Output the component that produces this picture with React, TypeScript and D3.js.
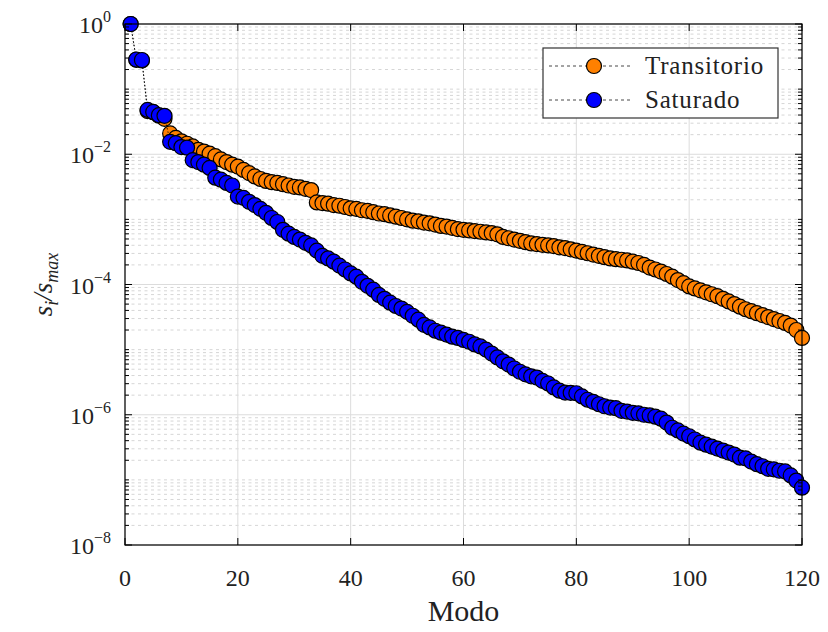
import React from "react";
import * as d3 from "d3";

const modes: number[] = d3.range(1, 121);
const xTicks: number[] = [0, 20, 40, 60, 80, 100, 120];
const yTickExps: number[] = [0, -2, -4, -6, -8];
const seriesNames: string[] = ["Transitorio", "Saturado"];
const seriesColors: string[] = ["#ff8000", "#0000ff"];

const transitorio: number[] = [
  1, 0.282, 0.275, 4.6e-2, 4.4e-2, 3.9e-2, 3.5e-2, 2.09e-2, 1.78e-2, 1.58e-2,
  1.45e-2, 1.32e-2, 1.17e-2, 1.1e-2, 1.02e-2, 9.33e-3, 8.32e-3, 7.59e-3, 6.92e-3, 6.46e-3,
  5.75e-3, 5.13e-3, 4.57e-3, 4.17e-3, 3.89e-3, 3.72e-3, 3.63e-3, 3.47e-3, 3.31e-3, 3.16e-3,
  3.09e-3, 2.95e-3, 2.82e-3, 1.82e-3, 1.78e-3, 1.74e-3, 1.66e-3, 1.62e-3, 1.55e-3, 1.48e-3,
  1.45e-3, 1.38e-3, 1.35e-3, 1.29e-3, 1.23e-3, 1.2e-3, 1.15e-3, 1.1e-3, 1.05e-3, 1.0e-3,
  9.55e-4, 9.33e-4, 8.91e-4, 8.71e-4, 8.32e-4, 7.94e-4, 7.76e-4, 7.41e-4, 7.08e-4, 6.92e-4,
  6.76e-4, 6.61e-4, 6.46e-4, 6.31e-4, 6.17e-4, 5.89e-4, 5.37e-4, 5.13e-4, 4.9e-4, 4.68e-4,
  4.47e-4, 4.27e-4, 4.17e-4, 4.07e-4, 3.98e-4, 3.89e-4, 3.72e-4, 3.63e-4, 3.47e-4, 3.31e-4,
  3.16e-4, 3.02e-4, 2.88e-4, 2.75e-4, 2.63e-4, 2.51e-4, 2.45e-4, 2.4e-4, 2.34e-4, 2.24e-4,
  2.14e-4, 2.0e-4, 1.82e-4, 1.7e-4, 1.58e-4, 1.45e-4, 1.32e-4, 1.17e-4, 1.05e-4, 9.33e-5,
  8.71e-5, 8.13e-5, 7.59e-5, 7.08e-5, 6.61e-5, 6.03e-5, 5.5e-5, 5.01e-5, 4.57e-5, 4.17e-5,
  3.89e-5, 3.63e-5, 3.39e-5, 3.16e-5, 2.95e-5, 2.75e-5, 2.57e-5, 2.34e-5, 2.0e-5, 1.51e-5,
];

const saturado: number[] = [
  1, 0.285, 0.28, 4.79e-2, 4.47e-2, 3.98e-2, 3.89e-2, 1.55e-2, 1.48e-2, 1.29e-2,
  1.26e-2, 8.13e-3, 7.59e-3, 6.92e-3, 6.17e-3, 4.37e-3, 4.07e-3, 3.63e-3, 3.31e-3, 2.24e-3,
  2.14e-3, 1.86e-3, 1.66e-3, 1.45e-3, 1.26e-3, 1.05e-3, 9.12e-4, 6.92e-4, 6.03e-4, 5.37e-4,
  4.9e-4, 4.37e-4, 3.98e-4, 3.31e-4, 2.75e-4, 2.51e-4, 2.24e-4, 1.95e-4, 1.7e-4, 1.48e-4,
  1.32e-4, 1.1e-4, 9.55e-5, 8.32e-5, 6.92e-5, 6.03e-5, 5.25e-5, 4.68e-5, 4.27e-5, 3.8e-5,
  3.31e-5, 2.88e-5, 2.4e-5, 2.19e-5, 1.95e-5, 1.82e-5, 1.7e-5, 1.58e-5, 1.51e-5, 1.41e-5,
  1.32e-5, 1.2e-5, 1.12e-5, 1.0e-5, 8.71e-6, 7.59e-6, 6.61e-6, 5.89e-6, 5.13e-6, 4.57e-6,
  4.17e-6, 3.89e-6, 3.72e-6, 3.31e-6, 3.02e-6, 2.63e-6, 2.34e-6, 2.19e-6, 2.17e-6, 2.14e-6,
  1.91e-6, 1.7e-6, 1.58e-6, 1.45e-6, 1.35e-6, 1.29e-6, 1.26e-6, 1.15e-6, 1.12e-6, 1.07e-6,
  1.05e-6, 1.0e-6, 9.77e-7, 9.33e-7, 8.71e-7, 7.59e-7, 6.31e-7, 5.75e-7, 5.13e-7, 4.68e-7,
  4.17e-7, 3.72e-7, 3.47e-7, 3.24e-7, 3.02e-7, 2.82e-7, 2.63e-7, 2.45e-7, 2.19e-7, 2.14e-7,
  1.91e-7, 1.74e-7, 1.62e-7, 1.48e-7, 1.45e-7, 1.38e-7, 1.35e-7, 1.17e-7, 9.77e-8, 7.59e-8,
];

const W = 828;
const H = 632;
const M = { left: 125, right: 802, top: 24, bottom: 545 };
const FONT = "'Liberation Serif', 'DejaVu Serif', serif";

export default function App() {
  const x = d3.scaleLinear().domain([0, 120]).range([M.left, M.right]);
  const y = d3.scaleLog().domain([1e-8, 1]).range([M.bottom, M.top]);

  const minorVals: number[] = [];
  for (let k = -8; k < 0; k++) {
    for (let m = 1; m <= 9; m++) {
      const v = m * Math.pow(10, k);
      if (m === 1 && k % 2 === 0) continue;
      minorVals.push(v);
    }
  }
  const majorVals = yTickExps.map((e) => Math.pow(10, e));

  const line = d3
    .line<number>()
    .x((_, i) => x(modes[i]))
    .y((d) => y(d));

  const series = [transitorio, saturado];

  return (
    <div style={{ position: "absolute", left: 0, top: 0 }}>
      <svg width={W} height={H} style={{ display: "block", background: "#fff" }} fontFamily={FONT}>
        <rect x={0} y={0} width={W} height={H} fill="#fff" />
        {/* minor grid */}
        {minorVals.map((v, i) => (
          <line key={"mg" + i} x1={M.left} x2={M.right} y1={y(v)} y2={y(v)} stroke="#d6d6d6" strokeWidth={1} strokeDasharray="3 3.5" />
        ))}
        {/* major grid */}
        {majorVals.map((v, i) => (
          <line key={"Mg" + i} x1={M.left} x2={M.right} y1={y(v)} y2={y(v)} stroke="#dcdcdc" strokeWidth={1} />
        ))}
        {xTicks.map((t, i) => (
          <line key={"xg" + i} x1={x(t)} x2={x(t)} y1={M.top} y2={M.bottom} stroke="#dcdcdc" strokeWidth={1} />
        ))}

        {/* data */}
        {series.map((s, si) => (
          <g key={"s" + si}>
            <path d={line(s) || ""} fill="none" stroke="#000" strokeWidth={0.8} strokeDasharray="1.5 2" />
            {s.map((v, i) => (
              <circle key={i} cx={x(modes[i])} cy={y(v)} r={7.5} fill={seriesColors[si]} stroke="#000" strokeWidth={1.2} />
            ))}
          </g>
        ))}

        {/* axes box */}
        <rect x={M.left} y={M.top} width={M.right - M.left} height={M.bottom - M.top} fill="none" stroke="#000" strokeWidth={1.2} />
        {/* x ticks */}
        {xTicks.map((t, i) => (
          <g key={"xt" + i}>
            <line x1={x(t)} x2={x(t)} y1={M.bottom} y2={M.bottom - 7} stroke="#000" />
            <line x1={x(t)} x2={x(t)} y1={M.top} y2={M.top + 7} stroke="#000" />
            <text x={x(t)} y={586} textAnchor="middle" fontSize={24} fill="#222">{t}</text>
          </g>
        ))}
        {/* y ticks */}
        {minorVals.map((v, i) => (
          <g key={"ymt" + i}>
            <line x1={M.left} x2={M.left + 4} y1={y(v)} y2={y(v)} stroke="#000" />
            <line x1={M.right} x2={M.right - 4} y1={y(v)} y2={y(v)} stroke="#000" />
          </g>
        ))}
        {yTickExps.map((e, i) => {
          const v = Math.pow(10, e);
          return (
            <g key={"yt" + i}>
              <line x1={M.left} x2={M.left + 7} y1={y(v)} y2={y(v)} stroke="#000" />
              <line x1={M.right} x2={M.right - 7} y1={y(v)} y2={y(v)} stroke="#000" />
              <text x={111} y={y(v) + 9} textAnchor="end" fontSize={24} fill="#222">
                10
                <tspan fontSize={16} dy={-11}>{e === 0 ? "0" : "\u2212" + Math.abs(e)}</tspan>
              </text>
            </g>
          );
        })}

        {/* axis labels */}
        <text x={(M.left + M.right) / 2} y={621} textAnchor="middle" fontSize={30} fill="#222">Modo</text>
        <text transform={`translate(52, ${(M.top + M.bottom) / 2}) rotate(-90)`} textAnchor="middle" fontSize={27} fill="#222" fontStyle="italic">
          s<tspan fontSize={18} dy={6}>i</tspan>
          <tspan fontSize={27} dy={-6}>/s</tspan>
          <tspan fontSize={18} dy={6}>max</tspan>
        </text>

        {/* legend */}
        <g>
          <rect x={543} y={48} width={235} height={70} fill="#fff" stroke="#333" strokeWidth={1.2} />
          {seriesNames.map((n, i) => {
            const cy = 66 + i * 34;
            return (
              <g key={"lg" + i}>
                <line x1={549} x2={632} y1={cy} y2={cy} stroke="#333" strokeWidth={0.9} strokeDasharray="3 3" />
                <circle cx={594} cy={cy} r={7.5} fill={seriesColors[i]} stroke="#000" strokeWidth={1.2} />
                <text x={645} y={cy + 8} fontSize={25} fill="#222" letterSpacing={0.8}>{n}</text>
              </g>
            );
          })}
        </g>
      </svg>
    </div>
  );
}
